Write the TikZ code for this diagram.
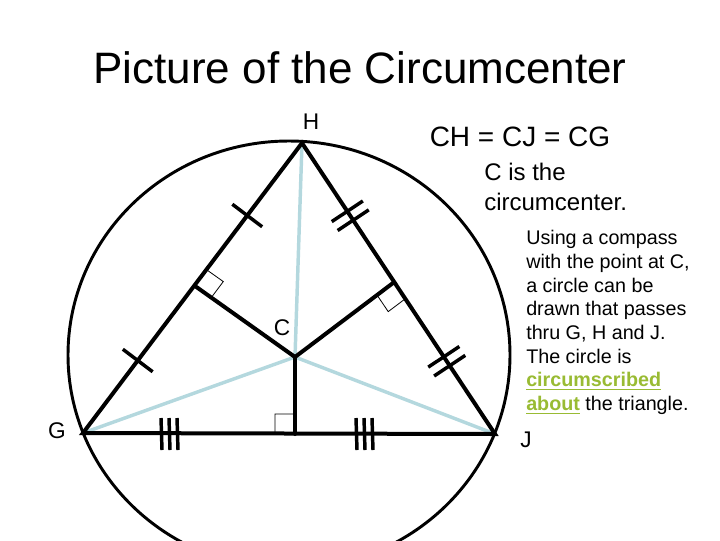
\documentclass[tikz,border=0pt]{standalone}
\usepackage{fontspec}
\setmainfont{Liberation Sans}
\usetikzlibrary{calc}
\definecolor{lb}{RGB}{180,216,222}
\definecolor{gr}{RGB}{153,187,51}
\begin{document}
\begin{tikzpicture}[x=0.75pt,y=-0.75pt,
  side/.style={line width=3pt,line cap=round},
  radius/.style={line width=2.6pt,lb},
  tick/.style={line width=2.6pt},
  sq/.style={line width=0.6pt},
  lbl/.style={font=\fontsize{17}{20}\selectfont,inner sep=0pt}]
\useasboundingbox (0,0) rectangle (720,540);
\begin{scope}
\clip (0,0) rectangle (720,540);
\draw[line width=2.2pt] (289,355) ellipse [x radius=221, y radius=214];
\end{scope}
\coordinate (H) at (302,143);
\coordinate (G) at (83,433);
\coordinate (J) at (495,434);
\coordinate (C) at (295,357);
\coordinate (F1) at (195,286);
\coordinate (F2) at (393,283);
\coordinate (F3) at (295,434);
\draw[radius] (C) -- (H); \draw[radius] (C) -- (G); \draw[radius] (C) -- (J);
\draw[side] (G) -- (H) -- (J) -- cycle;
\draw[side] (C) -- (F1); \draw[side] (C) -- (F2); \draw[side] (C) -- (F3);
% right angle marks
\draw[sq] ($(F1)!15pt!(H)$) -- ($($(F1)!15pt!(H)$)+($(F1)!15pt!(C)$)-(F1)$) -- ($(F1)!15pt!(C)$);
\draw[sq] ($(F2)!15pt!(J)$) -- ($($(F2)!15pt!(J)$)+($(F2)!15pt!(C)$)-(F2)$) -- ($(F2)!15pt!(C)$);
\draw[sq] ($(F3)!15pt!(G)$) -- ($($(F3)!15pt!(G)$)+($(F3)!15pt!(C)$)-(F3)$) -- ($(F3)!15pt!(C)$);
% single ticks on GH
\foreach \t/\n in {0.25/a,0.75/b}{
  \coordinate (T\n) at ($(G)!\t!(H)$);
  \draw[tick] ($(T\n)!14pt!90:(H)$) -- ($(T\n)!14pt!-90:(H)$);
}
% double ticks on HJ
\foreach \t/\n in {0.25/c,0.75/d}{
  \coordinate (T\n) at ($(H)!\t!(J)$);
  \foreach \o in {-4,4}{
    \coordinate (U) at ($(T\n)!\o pt!(J)$);
    \draw[tick] ($(U)!14pt!90:(J)$) -- ($(U)!14pt!-90:(J)$);
  }
}
% triple ticks on GJ
\foreach \x in {169,364}{
  \foreach \o in {-8,0,8}{
    \draw[tick] (\x+\o,418) -- (\x+\o+1,450);
  }
}
\node[font=\fontsize{33}{40}\selectfont] (title) at (360,68) {Picture of the Circumcenter};
\node[lbl] (hl) at (311,122) {H};
\node[lbl] (gl) at (57,431) {G};
\node[lbl] (jl) at (526,440) {J};
\node[lbl] (cl) at (282,328) {C};
\node[font=\fontsize{21}{24}\selectfont] (eq) at (520,137) {CH = CJ = CG};
\node[font=\fontsize{18}{22.5}\selectfont,align=left,anchor=north west,inner sep=0pt] (ct) at (484,163) {C is the\\circumcenter.};
\node[font=\fontsize{14.8}{17.8}\selectfont,align=left,anchor=north west,inner sep=0pt] (para) at (526,230)
 {Using a compass\\with the point at C,\\a circle can be\\drawn that passes\\thru G, H and J.\\The circle is\\{\color{gr}\bfseries\underline{circumscribed}}\\{\color{gr}\bfseries\underline{about}} the triangle.};
\end{tikzpicture}
\end{document}
